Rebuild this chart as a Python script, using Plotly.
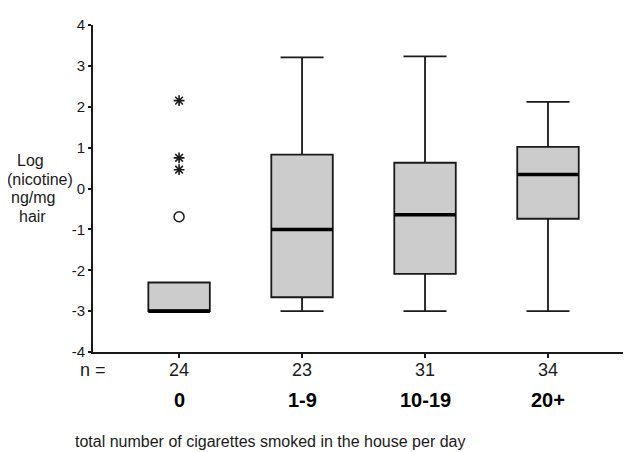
import plotly.graph_objects as go

# ---- data ----
categories = ["0", "1-9", "10-19", "20+"]
n_values = ["24", "23", "31", "34"]
q1 = [-3.0, -2.66, -2.09, -0.74]
median = [-3.0, -1.0, -0.64, 0.34]
q3 = [-2.30, 0.83, 0.63, 1.02]
lower_fence = [-3.0, -3.0, -3.0, -3.0]
upper_fence = [-2.30, 3.21, 3.23, 2.12]
extreme_y = [2.15, 0.75, 0.46]     # asterisks, group "0"
outlier_y = [-0.69]                # open circle, group "0"
y_ticks = [-4, -3, -2, -1, 0, 1, 2, 3, 4]
y_tick_labels = ["-4", "-3", "-2", "-1", "0", "1", "2", "3", "4"]
y_title_lines = ["Log", "(nicotine)", "ng/mg", "hair"]
x_title = "total number of cigarettes smoked in the house per day"

FONT = "Liberation Sans, Arial, sans-serif"
INK = "#1a1a1a"
pos = list(range(len(categories)))
BOX_W = 0.5

# page body has an 8px margin; plot area on screen: x 93..631, y 20..352
PAGE = 8
PLOT_L, PLOT_R, PLOT_T, PLOT_B = 93, 631, 20, 352
PW = PLOT_R - PLOT_L
PH = PLOT_B - PLOT_T


def px_x(sx):
    return (sx - PLOT_L) / PW


def px_y(sy):
    return (PLOT_B - sy) / PH


fig = go.Figure()
fig.add_trace(go.Box(
    x=pos, q1=q1, median=median, q3=q3,
    lowerfence=lower_fence, upperfence=upper_fence,
    width=BOX_W, whiskerwidth=0.7,
    fillcolor="#cccccc", line=dict(color=INK, width=1.8),
    boxpoints=False, showlegend=False, hoverinfo="skip",
))
fig.add_trace(go.Scatter(
    x=[pos[0]] * len(extreme_y), y=extreme_y, mode="markers",
    marker=dict(symbol="asterisk-open", size=9, color=INK,
                line=dict(color=INK, width=1.6)),
    showlegend=False, hoverinfo="skip",
))
fig.add_trace(go.Scatter(
    x=[pos[0]] * len(outlier_y), y=outlier_y, mode="markers",
    marker=dict(symbol="circle-open", size=10, color=INK,
                line=dict(color=INK, width=1.5)),
    showlegend=False, hoverinfo="skip",
))

# thick median lines
for i, m in zip(pos, median):
    fig.add_shape(type="line", xref="x", yref="y",
                  x0=i - BOX_W / 2, x1=i + BOX_W / 2, y0=m, y1=m,
                  line=dict(color="black", width=3.5))

# n = row and category row
fig.add_annotation(x=px_x(93), y=px_y(370), xref="paper", yref="paper",
                   text="n =", showarrow=False, xanchor="center", yanchor="middle",
                   font=dict(family=FONT, size=18, color=INK))
for i, n, c in zip(pos, n_values, categories):
    fig.add_annotation(x=i, y=px_y(370), xref="x", yref="paper",
                       text=n, showarrow=False, xanchor="center", yanchor="middle",
                       font=dict(family=FONT, size=18, color=INK))
    fig.add_annotation(x=i, y=px_y(401), xref="x", yref="paper",
                       text="<b>" + c + "</b>", showarrow=False, xanchor="center",
                       yanchor="middle", font=dict(family=FONT, size=20, color="black"))

fig.add_annotation(x=px_x(73), y=px_y(443), xref="paper", yref="paper",
                   text=x_title, showarrow=False, xanchor="left", yanchor="middle",
                   font=dict(family=FONT, size=16, color=INK))

y_title_cx = [30, 40, 32.5, 32.5]
y_title_cy = [158, 177, 195, 214]
for t, cx, cy in zip(y_title_lines, y_title_cx, y_title_cy):
    fig.add_annotation(x=px_x(cx), y=px_y(cy), xref="paper", yref="paper",
                       text=t, showarrow=False, xanchor="center", yanchor="middle",
                       font=dict(family=FONT, size=16, color=INK))

fig.update_layout(
    width=631, height=452,
    margin=dict(l=PLOT_L - PAGE, r=631 - (PLOT_L - PAGE) - PW, t=PLOT_T - PAGE,
                b=452 - (PLOT_B - PAGE), pad=0),
    paper_bgcolor="white", plot_bgcolor="white",
    font=dict(family=FONT, color=INK),
    xaxis=dict(range=[-0.70, 3.675], tickvals=pos, showticklabels=False,
               ticks="outside", ticklen=4, tickwidth=2, tickcolor=INK,
               showline=True, linecolor=INK, linewidth=1.8,
               showgrid=False, zeroline=False),
    yaxis=dict(range=[-4, 4], tickvals=y_ticks, ticktext=y_tick_labels,
               ticks="outside", ticklen=3,
               tickwidth=2, tickcolor=INK, showline=True, linecolor=INK,
               linewidth=1.8, showgrid=False, zeroline=False,
               tickfont=dict(family=FONT, size=15, color=INK)),
)

fig.write_html("out.html")
